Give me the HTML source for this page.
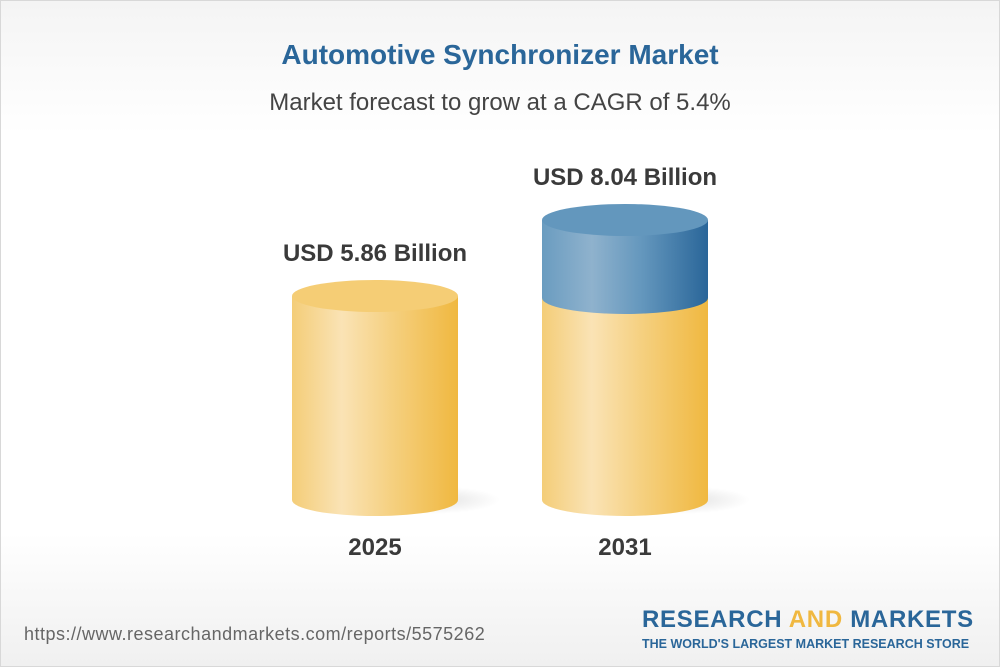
<!DOCTYPE html>
<html><head><meta charset="utf-8"><style>
body{margin:0;width:1000px;height:667px;overflow:hidden;font-family:"Liberation Sans",sans-serif}
.bg{position:absolute;left:0;top:0;width:998px;height:665px;border:1px solid #d8d8d8;background:linear-gradient(#f4f4f4 0%,#fff 20%,#fff 80%,#f0f0f0 100%)}
.t{position:absolute;width:1000px;text-align:center}
</style></head><body><div class="bg"></div>
<div class="t" style="top:39px;font-size:28px;font-weight:bold;color:#2a6699">Automotive Synchronizer Market</div>
<div class="t" style="top:89px;font-size:24px;color:#444">Market forecast to grow at a CAGR of 5.4%</div>
<svg style="position:absolute;left:0;top:0" width="1000" height="667">
<defs>
<linearGradient id="y" x1="0" x2="1"><stop offset="0" stop-color="#f4cd78"/><stop offset=".3" stop-color="#fae3b5"/><stop offset=".6" stop-color="#f5d080"/><stop offset="1" stop-color="#f0b840"/></linearGradient>
<linearGradient id="b" x1="0" x2="1"><stop offset="0" stop-color="#6a9cc0"/><stop offset=".3" stop-color="#8fb2cd"/><stop offset=".6" stop-color="#6497bd"/><stop offset="1" stop-color="#2a6699"/></linearGradient>
<radialGradient id="s"><stop offset="0" stop-color="#000" stop-opacity=".12"/><stop offset="1" stop-color="#000" stop-opacity="0"/></radialGradient>
</defs>
<ellipse cx="430" cy="500" rx="70" ry="14" fill="url(#s)"/>
<ellipse cx="680" cy="500" rx="70" ry="14" fill="url(#s)"/>
<path d="M292 296 V500 A83 16 0 0 0 458 500 V296 Z" fill="url(#y)"/>
<ellipse cx="375" cy="296" rx="83" ry="16" fill="#f5cd75"/>
<path d="M542 298 V500 A83 16 0 0 0 708 500 V298 Z" fill="url(#y)"/>
<path d="M542 220 V298 A83 16 0 0 0 708 298 V220 Z" fill="url(#b)"/>
<ellipse cx="625" cy="220" rx="83" ry="16" fill="#6397bd"/>
</svg>
<div class="t" style="left:-125px;top:240px;font-size:24px;font-weight:bold;color:#3a3a3a">USD 5.86 Billion</div>
<div class="t" style="left:125px;top:164px;font-size:24px;font-weight:bold;color:#3a3a3a">USD 8.04 Billion</div>
<div class="t" style="left:-125px;top:534px;font-size:24px;font-weight:bold;color:#3a3a3a">2025</div>
<div class="t" style="left:125px;top:534px;font-size:24px;font-weight:bold;color:#3a3a3a">2031</div>
<div style="position:absolute;left:24px;top:624px;font-size:18px;letter-spacing:.5px;color:#666">https://www.researchandmarkets.com/reports/5575262</div>
<div style="position:absolute;left:642px;top:606px;font-size:24px;font-weight:bold;color:#2a6699;letter-spacing:.7px">RESEARCH <span style="color:#f0b840">AND</span> MARKETS</div>
<div style="position:absolute;left:642px;top:637px;font-size:12.5px;font-weight:bold;color:#2a6699;letter-spacing:0px">THE WORLD'S LARGEST MARKET RESEARCH STORE</div>
</body></html>
